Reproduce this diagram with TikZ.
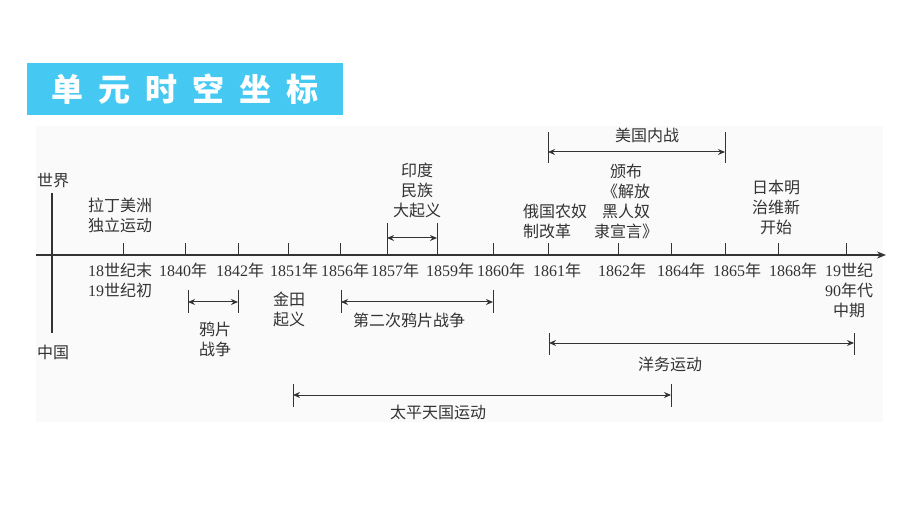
\documentclass[tikz,border=0pt]{standalone}
\usepackage{fontspec}
\setmainfont{Liberation Serif}
\newfontfamily\cjk{Noto Sans CJK SC}
\usetikzlibrary{arrows.meta}
\newcommand\zh[1]{{\cjk #1}}
\newcommand\tsp{\hspace{15pt}}
\definecolor{ink}{HTML}{333333}
\definecolor{titlebg}{HTML}{45C8F2}
\definecolor{panel}{HTML}{FAFAFA}
\begin{document}
\begin{tikzpicture}[x=1pt,y=-1pt,
  lbl/.style={font=\fontsize{16}{20}\selectfont, text=ink, inner sep=0pt, align=center},
  axisline/.style={draw=ink, line width=1.3pt},
  tickline/.style={draw=ink, line width=1pt},
  spanline/.style={draw=ink, line width=1pt, {Stealth[length=7pt,width=6pt]}-{Stealth[length=7pt,width=6pt]}},
]
\useasboundingbox (0,0) rectangle (920,518);
\fill[white] (0,0) rectangle (920,518);
\fill[panel] (36,126) rectangle (883,422);
% title
\node[fill=titlebg, minimum width=316pt, minimum height=52pt, inner sep=0pt, text=white,
      font=\cjk\bfseries\fontsize{32}{32}\selectfont] (title) at (185,89)
      {单\tsp{}元\tsp{}时\tsp{}空\tsp{}坐\tsp{}标};
% axes
\coordinate (ax0) at (36,255);
\coordinate (ax1) at (886,255);
\draw[axisline,-{Stealth[length=9pt,width=7pt]}] (ax0) -- (ax1);
\coordinate (v0) at (52,193);
\coordinate (v1) at (52,333);
\draw[axisline] (v0) -- (v1);
\node[lbl] (world) at (53,181) {\zh{世界}};
\node[lbl] (china) at (53,352) {\zh{中国}};
% ticks
\foreach \x/\n in {123/a,185/b,238/c,288/d,340/e,493/h,548/i,618/j,671/k,725/l,778/m,846/n}{
  \coordinate (t\n) at (\x,255);
  \draw[tickline] (t\n) -- ++(0,-12);
}
\coordinate (tf) at (387,255);
\coordinate (tg) at (437,255);
\coordinate (tf2) at (387,223);
\coordinate (tg2) at (437,223);
\draw[tickline] (tf) -- (tf2);
\draw[tickline] (tg) -- (tg2);
% year labels
\node[lbl, align=left, anchor=west] (ya) at (88,280) {18\zh{世纪末}\\19\zh{世纪初}};
\node[lbl] (yb) at (183,270) {1840\zh{年}};
\node[lbl] (yc) at (240,270) {1842\zh{年}};
\node[lbl] (yd) at (294,270) {1851\zh{年}};
\node[lbl] (ye) at (345,270) {1856\zh{年}};
\node[lbl] (yf) at (395,270) {1857\zh{年}};
\node[lbl] (yg) at (450,270) {1859\zh{年}};
\node[lbl] (yh) at (501,270) {1860\zh{年}};
\node[lbl] (yi) at (557,270) {1861\zh{年}};
\node[lbl] (yj) at (622,270) {1862\zh{年}};
\node[lbl] (yk) at (681,270) {1864\zh{年}};
\node[lbl] (yl) at (737,270) {1865\zh{年}};
\node[lbl] (ym) at (793,270) {1868\zh{年}};
\node[lbl] (yn) at (849,290) {19\zh{世纪}\\90\zh{年代}\\\zh{中期}};
% upper events
\node[lbl] (latin) at (120,215) {\zh{拉丁美洲}\\\zh{独立运动}};
\node[lbl] (india) at (417,190) {\zh{印度}\\\zh{民族}\\\zh{大起义}};
\coordinate (ina) at (387,238); \coordinate (inb) at (437,238);
\draw[spanline] (ina) -- (inb);
\node[lbl, align=left, anchor=west] (russia) at (523,221) {\zh{俄国农奴}\\\zh{制改革}};
\coordinate (us0) at (548,132);
\coordinate (us1) at (548,163);
\coordinate (us2) at (725,132);
\coordinate (us3) at (725,163);
\draw[tickline] (us0) -- (us1);
\draw[tickline] (us2) -- (us3);
\coordinate (usa) at (548,152);
\coordinate (usb) at (725,152);
\draw[spanline] (usa) -- (usb);
\node[lbl] (uswar) at (647,135) {\zh{美国内战}};
\node[lbl] (eman) at (626,201.5) {\zh{颁布}\\\zh{《解放}\\\zh{黑人奴}\\\zh{隶宣言》}};
\node[lbl] (japan) at (776,207) {\zh{日本明}\\\zh{治维新}\\\zh{开始}};
% lower events
\coordinate (op0) at (188,290); \coordinate (op1) at (188,313);
\coordinate (op2) at (238,290); \coordinate (op3) at (238,313);
\draw[tickline] (op0) -- (op1);
\draw[tickline] (op2) -- (op3);
\coordinate (opa) at (188,302); \coordinate (opb) at (238,302);
\draw[spanline] (opa) -- (opb);
\node[lbl] (opium) at (215,339.5) {\zh{鸦片}\\\zh{战争}};
\node[lbl] (jintian) at (289,309.5) {\zh{金田}\\\zh{起义}};
\coordinate (so0) at (341,290); \coordinate (so1) at (341,313);
\coordinate (so2) at (493,290); \coordinate (so3) at (493,313);
\draw[tickline] (so0) -- (so1);
\draw[tickline] (so2) -- (so3);
\coordinate (soa) at (341,302); \coordinate (sob) at (493,302);
\draw[spanline] (soa) -- (sob);
\node[lbl] (opium2) at (409,320) {\zh{第二次鸦片战争}};
\coordinate (ym0) at (549,333); \coordinate (ym1) at (549,355);
\coordinate (ym2) at (854,333); \coordinate (ym3) at (854,355);
\draw[tickline] (ym0) -- (ym1);
\draw[tickline] (ym2) -- (ym3);
\coordinate (yma) at (549,343); \coordinate (ymb) at (854,343);
\draw[spanline] (yma) -- (ymb);
\node[lbl] (yangwu) at (670,364) {\zh{洋务运动}};
\coordinate (tp0) at (293,384); \coordinate (tp1) at (293,407);
\coordinate (tp2) at (671,384); \coordinate (tp3) at (671,407);
\draw[tickline] (tp0) -- (tp1);
\draw[tickline] (tp2) -- (tp3);
\coordinate (tpa) at (293,395); \coordinate (tpb) at (671,395);
\draw[spanline] (tpa) -- (tpb);
\node[lbl] (taiping) at (438,412) {\zh{太平天国运动}};
\end{tikzpicture}
\end{document}
